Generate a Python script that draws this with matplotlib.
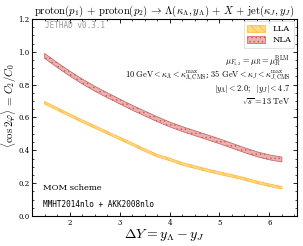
import numpy as np
import matplotlib
matplotlib.use("Agg")
import matplotlib.pyplot as plt
from matplotlib.ticker import MultipleLocator

plt.rcParams['mathtext.fontset'] = 'cm'
plt.rcParams['font.family'] = 'serif'
plt.rcParams['font.serif'] = ['DejaVu Serif']
plt.rcParams['hatch.linewidth'] = 0.5

# values
dy = [1.5, 1.75, 2.0, 2.25, 2.5, 2.75, 3.0, 3.25, 3.5, 3.75, 4.0,
      4.25, 4.5, 4.75, 5.0, 5.25, 5.5, 5.75, 6.0, 6.25]
nla = [0.975, 0.920, 0.868, 0.820, 0.776, 0.736, 0.698, 0.660, 0.625, 0.590, 0.558,
       0.530, 0.505, 0.480, 0.455, 0.428, 0.401, 0.376, 0.357, 0.344]
lla = [0.690, 0.652, 0.615, 0.578, 0.543, 0.508, 0.473, 0.438, 0.402, 0.368, 0.345,
       0.318, 0.298, 0.279, 0.261, 0.244, 0.226, 0.205, 0.187, 0.172]
nla_err = 0.015
lla_err = 0.008

x = np.array(dy)
y_nla = np.array(nla)
y_lla = np.array(lla)

fig = plt.figure(figsize=(3.03, 2.46), dpi=100)
ax = fig.add_axes([0.106, 0.122, 0.874, 0.801])

c_lla = '#ffb732'
c_nla = '#c45c5a'

ax.fill_between(x, y_lla - lla_err, y_lla + lla_err, facecolor='#ffd98a',
                edgecolor=c_lla, hatch='\\\\\\\\', linewidth=0.5, label='LLA')
ax.fill_between(x, y_nla - nla_err, y_nla + nla_err, facecolor='#eab0ae',
                edgecolor=c_nla, hatch='....', linewidth=0.5, label='NLA')

ax.set_xlim(1.25, 6.55)
ax.set_ylim(0.0, 1.2)
ax.xaxis.set_major_locator(MultipleLocator(1))
ax.xaxis.set_minor_locator(MultipleLocator(0.25))
ax.yaxis.set_major_locator(MultipleLocator(0.2))
ax.yaxis.set_minor_locator(MultipleLocator(0.05))
ax.tick_params(which='both', direction='in', top=True, right=True, labelsize=5, pad=2)
ax.tick_params(which='major', length=3, width=0.6)
ax.tick_params(which='minor', length=1.5, width=0.5)
ax.set_yticks([0.0, 0.2, 0.4, 0.6, 0.8, 1.0, 1.2])
ax.set_yticklabels(['0.0', '0.2', '0.4', '0.6', '0.8', '1.0', '1.2'])
for s in ax.spines.values():
    s.set_linewidth(0.8)

ax.set_title(r'$\mathrm{proton}(p_1)\,+\,\mathrm{proton}(p_2)\,\rightarrow\,\Lambda(\kappa_\Lambda,y_\Lambda)\,+\,X\,+\,\mathrm{jet}(\kappa_J,y_J)$',
             fontsize=7.7, pad=3)
ax.set_xlabel(r'$\Delta Y = y_\Lambda - y_J$', fontsize=10, labelpad=0)
ax.set_ylabel(r'$\langle \cos 2\varphi \rangle \,=\, C_2/C_0$', fontsize=7.8)
ax.yaxis.set_label_coords(-0.048, 0.56)

ax.text(0.05, 0.965, 'JETHAD v0.3.1', transform=ax.transAxes, fontsize=5.5,
        family='monospace', color='#999999', va='center')
ax.text(0.04, 0.14, 'MOM scheme', transform=ax.transAxes, fontsize=6, va='center')
ax.text(0.04, 0.056, 'MMHT2014nlo + AKK2008nlo', transform=ax.transAxes, fontsize=5.5,
        family='monospace', va='center')

tx = 0.975
ax.text(tx, 0.78, r'$\mu_{F_{1,2}} = \mu_R = \mu_R^{\rm BLM}$', transform=ax.transAxes,
        fontsize=6, ha='right', va='center')
ax.text(tx, 0.71, r'$10\ {\rm GeV} < \kappa_\Lambda < \kappa_{\Lambda,{\rm CMS}}^{\rm max}$; $35\ {\rm GeV} < \kappa_J < \kappa_{J,{\rm CMS}}^{\rm max}$',
        transform=ax.transAxes, fontsize=6, ha='right', va='center')
ax.text(tx, 0.645, r'$|y_\Lambda| < 2.0;\ \ |y_J| < 4.7$', transform=ax.transAxes,
        fontsize=6, ha='right', va='center')
ax.text(tx, 0.58, r'$\sqrt{s} = 13\ {\rm TeV}$', transform=ax.transAxes,
        fontsize=6, ha='right', va='center')

leg = ax.legend(loc='upper right', fontsize=6, frameon=True, fancybox=False,
                handlelength=2.2, handleheight=0.9, borderpad=0.4, labelspacing=0.35,
                borderaxespad=0.3)
leg.get_frame().set_linewidth(0.5)
leg.get_frame().set_edgecolor('#cccccc')

fig.savefig('out.png', dpi=100)
